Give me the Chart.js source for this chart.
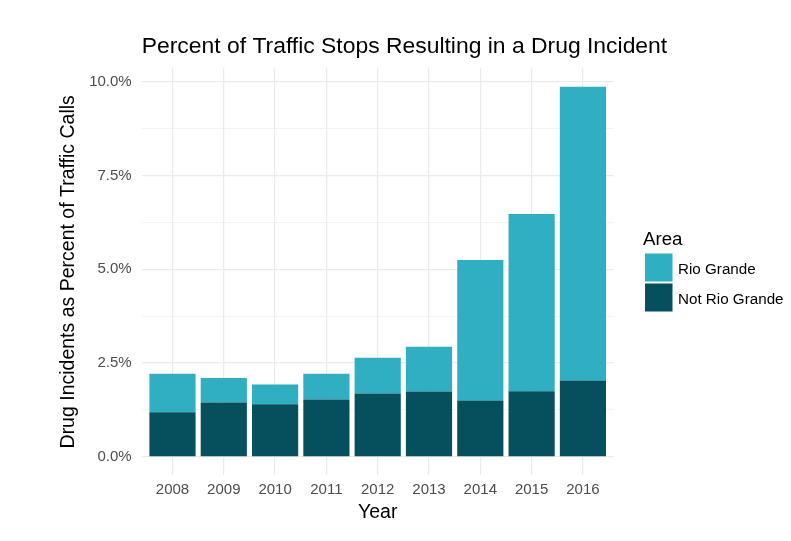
<!DOCTYPE html>
<html>
<head>
<meta charset="utf-8">
<script src="https://cdn.jsdelivr.net/npm/chart.js@4.4.1/dist/chart.umd.min.js"></script>
<style>
  html, body { margin: 0; padding: 0; background: #fff; }
  #wrap { width: 791px; height: 541px; position: relative; }
</style>
</head>
<body>
<div id="wrap"><canvas id="chart"></canvas></div>
<script>
// values, in percent of traffic calls
const years = [2008, 2009, 2010, 2011, 2012, 2013, 2014, 2015, 2016];
const notRioGrande = [1.19, 1.45, 1.40, 1.525, 1.69, 1.74, 1.50, 1.75, 2.03];
const rioGrande = [1.02, 0.65, 0.525, 0.685, 0.95, 1.19, 3.745, 4.72, 7.83];
const majorTicks = [0, 2.5, 5, 7.5, 10];
const minorTicks = [1.25, 3.75, 6.25, 8.75];
const chartTitle = 'Percent of Traffic Stops Resulting in a Drug Incident';

const FONT = '"Liberation Sans", Arial, Helvetica, sans-serif';
const GRID = '#ebebeb';

// ggplot-style title (left aligned to the panel) and legend on the right
const ggDecor = {
  id: 'ggDecor',
  afterDraw(chart) {
    const ctx = chart.ctx;
    const sets = chart.data.datasets.slice().reverse();
    ctx.save();
    ctx.fillStyle = '#000';
    ctx.textBaseline = 'alphabetic';
    ctx.font = '22.9px ' + FONT;
    ctx.fillText(chartTitle, chart.chartArea.left, 53.3);
    ctx.font = '18.7px ' + FONT;
    ctx.fillText('Area', 643, 245);
    sets.forEach((ds, i) => {
      ctx.fillStyle = ds.backgroundColor;
      ctx.fillRect(645, 253.5 + i * 30, 27.5, 28);
      ctx.fillStyle = '#000';
      ctx.font = '15.2px ' + FONT;
      ctx.fillText(ds.label, 678, 273.5 + i * 30);
    });
    ctx.restore();
  }
};

const toPoints = arr => arr.map((v, i) => ({ x: years[i], y: v }));

new Chart(document.getElementById('chart'), {
  type: 'bar',
  data: {
    datasets: [
      { label: 'Not Rio Grande', data: toPoints(notRioGrande), backgroundColor: '#05505c' },
      { label: 'Rio Grande', data: toPoints(rioGrande), backgroundColor: '#30aec2' }
    ]
  },
  options: {
    responsive: true,
    maintainAspectRatio: false,
    animation: false,
    layout: { padding: { left: 0, right: 177.3, top: 68.3, bottom: 0 } },
    datasets: { bar: { barPercentage: 0.9, categoryPercentage: 1, borderWidth: 0 } },
    plugins: {
      legend: { display: false },
      tooltip: { enabled: false },
      title: { display: false }
    },
    scales: {
      x: {
        type: 'linear',
        stacked: true,
        offset: false,
        min: 2007.4,
        max: 2016.6,
        afterBuildTicks: s => { s.ticks = years.map(v => ({ value: v })); },
        afterFit: s => { s.height = 65.7; },
        border: { display: false },
        grid: { color: GRID, lineWidth: 1.2, drawTicks: false, offset: false },
        ticks: {
          color: '#4d4d4d',
          padding: 6,
          font: { family: FONT, size: 15 },
          callback: v => String(v)
        },
        title: {
          display: true,
          text: 'Year',
          color: '#000',
          font: { family: FONT, size: 19.5, lineHeight: 1.2 },
          padding: { top: 0, bottom: 17 }
        }
      },
      y: {
        stacked: true,
        min: -0.493,
        max: 10.353,
        afterBuildTicks: s => {
          s.ticks = majorTicks.concat(minorTicks).sort((a, b) => a - b).map(v => ({ value: v }));
        },
        afterFit: s => { s.width = 141.7; },
        border: { display: false },
        grid: {
          color: GRID,
          drawTicks: false,
          lineWidth: c => (majorTicks.includes(c.tick && c.tick.value) ? 1.2 : 0.6)
        },
        ticks: {
          color: '#4d4d4d',
          padding: 10,
          font: { family: FONT, size: 15 },
          callback: v => (majorTicks.includes(v) ? v.toFixed(1) + '%' : '')
        },
        title: {
          display: true,
          text: 'Drug Incidents as Percent of Traffic Calls',
          color: '#000',
          font: { family: FONT, size: 19.5, lineHeight: 1.2 },
          padding: { top: 57.3, bottom: 0 }
        }
      }
    }
  },
  plugins: [ggDecor]
});
</script>
</body>
</html>
